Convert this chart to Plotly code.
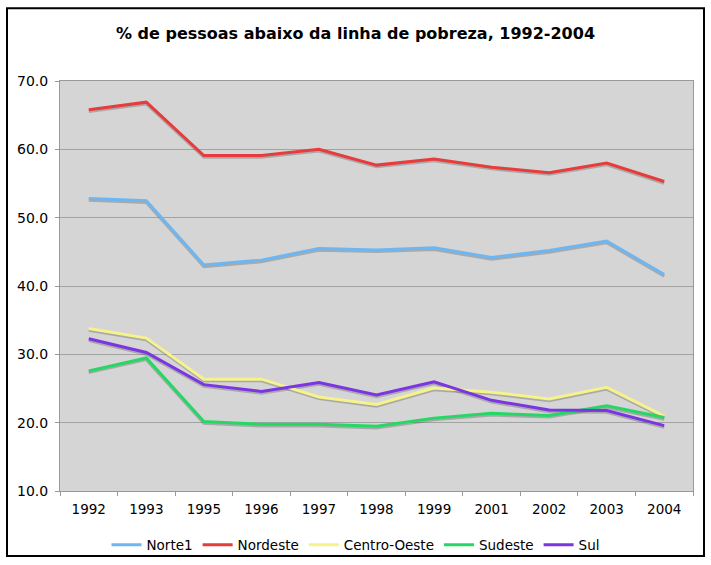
import plotly.graph_objects as go

years = ["1992", "1993", "1995", "1996", "1997", "1998", "1999", "2001", "2002", "2003", "2004"]
norte1 = [52.8, 52.5, 43.1, 43.8, 45.5, 45.3, 45.6, 44.2, 45.2, 46.6, 41.7]
nordeste = [65.8, 66.9, 59.1, 59.1, 60.0, 57.7, 58.6, 57.4, 56.6, 58.0, 55.3]
centro_oeste = [33.8, 32.4, 26.4, 26.4, 23.8, 22.7, 25.1, 24.5, 23.5, 25.2, 21.0]
sudeste = [27.6, 29.5, 20.2, 19.8, 19.8, 19.5, 20.7, 21.4, 21.1, 22.5, 20.8]
sul = [32.3, 30.3, 25.6, 24.6, 25.9, 24.1, 26.0, 23.3, 21.9, 21.8, 19.6]

series = [
    ("Norte1", norte1, "#6db6f2"),
    ("Nordeste", nordeste, "#e83b3b"),
    ("Centro-Oeste", centro_oeste, "#f6f28c"),
    ("Sudeste", sudeste, "#25d865"),
    ("Sul", sul, "#7b35e3"),
]

fig = go.Figure()
# shadows
for name, vals, col in series:
    fig.add_trace(go.Scatter(x=years, y=[v - 0.25 for v in vals], mode="lines",
                             line=dict(color="rgba(90,90,90,0.35)", width=3),
                             showlegend=False, hoverinfo="skip"))
for name, vals, col in series:
    fig.add_trace(go.Scatter(x=years, y=vals, mode="lines", name=name,
                             line=dict(color=col, width=3)))

W, H = 711, 565
l, r, t, b = 60, 18, 81, 72
pw, ph = W - l - r, H - t - b

def px_x(x):
    return (x - l) / pw

def px_y(y):
    return (H - b - y) / ph

fig.add_shape(type="rect", xref="paper", yref="paper",
              x0=px_x(7), x1=px_x(704), y0=px_y(558), y1=px_y(8),
              line=dict(color="black", width=2), fillcolor="rgba(0,0,0,0)", layer="below")

fig.update_layout(
    width=W, height=H,
    margin=dict(l=l, r=r, t=t, b=b),
    paper_bgcolor="white",
    plot_bgcolor="#d5d5d5",
    font=dict(family="DejaVu Sans", size=13.5, color="black"),
    title=dict(text="<b>% de pessoas abaixo da linha de pobreza, 1992-2004</b>",
               x=0.5, xref="container", xanchor="center", y=1 - 33 / H, yanchor="middle",
               font=dict(family="DejaVu Sans", size=16, color="black")),
    showlegend=True,
    legend=dict(orientation="h", x=0.5, xref="container", xanchor="center",
                y=1 - 545 / H, yref="container", yanchor="middle",
                font=dict(size=13.5), bgcolor="rgba(0,0,0,0)"),
    xaxis=dict(type="category", range=[-0.5, len(years) - 0.5], showgrid=False,
               ticks="outside", tickson="boundaries", ticklabelstandoff=6,
               ticklen=4, tickcolor="#999999", showline=True, linecolor="#999999",
               linewidth=1, mirror=True, tickfont=dict(size=13.5), fixedrange=True),
    yaxis=dict(range=[10, 70], dtick=10, tickformat=".1f", showgrid=True,
               gridcolor="#a3a3a3", gridwidth=1, ticks="outside", ticklen=4,
               ticklabelstandoff=4,
               tickcolor="#999999", showline=True, linecolor="#999999", linewidth=1,
               mirror=True, zeroline=False, tickfont=dict(size=14)),
)

fig.write_html("out.html", config={"displayModeBar": False},
               post_script="document.body.style.margin='0';")
